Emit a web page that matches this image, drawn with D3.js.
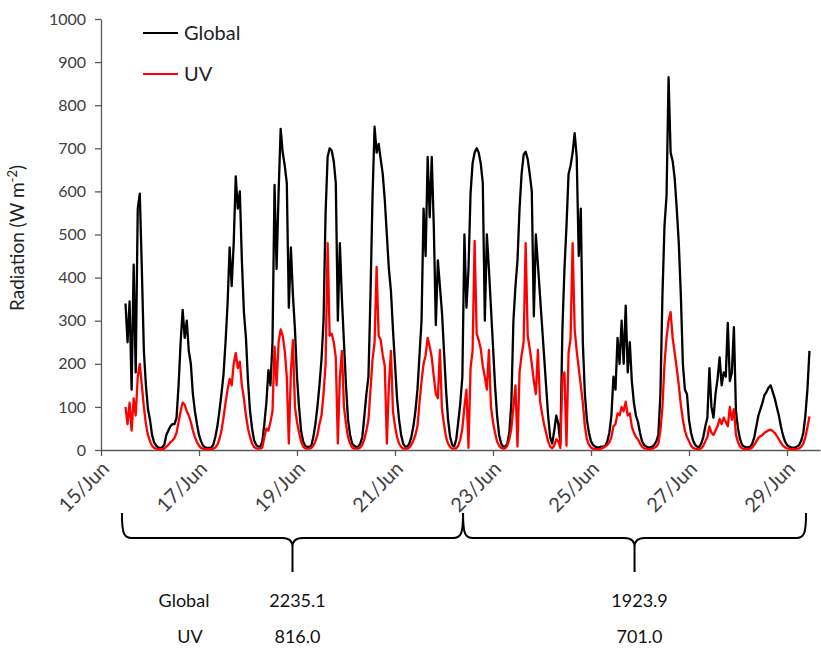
<!DOCTYPE html>
<html>
<head>
<meta charset="utf-8">
<script src="https://cdn.jsdelivr.net/npm/d3@7"></script>
<style>
body { margin: 0; background: #fff; }
text { font-family: Lato, "Open Sans", sans-serif; }
</style>
</head>
<body>
<svg id="chart" width="821" height="648"></svg>
<script>
// hourly values (W m-2), first sample at 15/Jun 12:00
var startTime = new Date(2019, 5, 15, 12)

var globalRad = [
  340,250,345,140,430,180,560,595,420,230,150,95,70,35,18,10,6,5,6,12,35,45,55,60,
  60,75,150,250,325,260,300,230,200,130,90,60,35,20,10,6,5,5,6,12,30,55,90,130,
  175,250,340,470,380,480,635,560,600,440,320,260,160,90,50,22,12,8,8,20,60,110,185,150,
  250,615,420,600,745,690,660,620,330,470,360,280,170,100,45,20,10,7,7,10,30,60,100,150,
  210,300,550,680,700,695,670,620,300,480,350,250,150,70,35,15,10,7,8,15,30,80,130,170,
  360,590,750,690,710,675,640,580,500,420,370,280,200,120,70,35,15,8,8,15,30,55,90,140,
  220,300,560,450,680,540,680,520,290,440,380,320,230,140,70,30,12,8,25,65,110,170,500,330,
  420,595,665,690,700,690,665,620,300,500,420,330,240,150,80,35,15,8,8,15,40,110,300,380,
  440,560,640,685,692,675,640,600,310,500,430,360,290,220,150,80,30,15,45,80,60,15,280,420,
  520,640,660,690,735,680,450,560,250,130,70,40,20,12,8,6,6,8,8,10,20,40,80,170,
  140,260,200,300,200,335,180,250,160,110,80,65,40,20,12,8,6,6,8,12,20,35,130,360,
  520,590,865,690,670,630,560,480,360,200,140,130,70,40,22,12,8,7,15,30,55,75,190,100,
  75,130,165,215,150,180,170,295,160,180,285,90,50,25,12,8,6,6,8,15,30,55,80,95,
  110,128,135,145,150,135,120,100,80,55,35,20,12,8,6,5,6,8,12,22,40,80,140,230
]

var uvRad = [
  100,60,110,45,120,80,170,200,150,100,60,35,20,10,5,3,2,2,2,3,8,12,18,22,
  28,40,65,90,110,105,90,80,65,45,30,18,10,5,3,2,2,2,2,3,6,12,25,45,
  75,110,140,165,150,200,225,190,205,150,120,80,50,30,15,7,4,3,3,6,30,50,45,65,
  90,240,150,250,280,265,230,170,15,180,255,100,65,40,20,8,4,3,3,5,10,20,35,60,
  80,130,200,480,265,270,250,215,15,170,230,100,60,30,15,6,3,3,3,6,12,25,45,70,
  140,210,250,425,265,255,220,195,15,150,230,90,55,30,15,7,3,3,3,6,12,22,35,55,
  110,160,200,220,260,240,215,170,130,120,232,95,60,30,15,7,3,3,4,10,25,50,100,140,
  5,190,230,485,270,255,235,195,170,140,232,100,65,40,20,10,5,3,4,10,25,50,100,150,
  8,180,220,250,480,265,235,200,160,130,232,115,85,60,40,20,8,4,10,25,20,5,170,180,
  10,225,260,480,280,230,190,150,110,55,25,12,6,3,2,2,2,3,5,8,12,18,30,55,
  60,85,80,100,90,112,80,85,55,40,30,25,15,8,4,3,2,2,3,5,8,15,45,100,
  200,260,300,320,260,225,190,150,105,70,45,30,20,10,5,3,2,2,4,10,20,30,55,40,
  35,45,55,72,60,75,65,55,100,70,95,35,18,8,4,2,2,2,3,6,12,20,28,32,
  35,40,43,46,47,44,40,33,25,17,10,6,4,3,2,2,2,3,4,8,15,30,52,78
]

var yTicks = [0, 100, 200, 300, 400, 500, 600, 700, 800, 900, 1000]
var tickDates = [15, 17, 19, 21, 23, 25, 27, 29].map(d => new Date(2019, 5, d))
var seriesNames = ["Global", "UV"]
var seriesColors = ["#000000", "#ff0000"]

// summary table under the braces
var periodBounds = [new Date(2019, 5, 15, 10, 15), new Date(2019, 5, 22, 9, 20), new Date(2019, 5, 29, 9, 20)]
var globalTotals = ["2235.1", "1923.9"]
var uvTotals = ["816.0", "701.0"]

var svg = d3.select("#chart")

var dimensions = {
    left: 101,
    right: 820,
    top: 19,
    bottom: 450
}

var x = d3.scaleTime()
          .domain([new Date(2019, 5, 15), new Date(2019, 5, 29, 16, 10)])
          .range([dimensions.left, dimensions.right])
var y = d3.scaleLinear()
          .domain([0, 1000])
          .range([dimensions.bottom, dimensions.top])

var rows = globalRad.map((g, i) => ({
    t: d3.timeHour.offset(startTime, i),
    global: g,
    uv: uvRad[i]
}))

//axes
var yAxis = svg.append("g")
               .attr("transform", `translate(${dimensions.left},0)`)
               .call(d3.axisLeft(y).tickValues(yTicks).tickFormat(d3.format("d"))
                       .tickSize(6).tickSizeOuter(0).tickPadding(9))
yAxis.selectAll("text").attr("font-size", 16).attr("fill", "#404040")

var xAxis = svg.append("g")
               .attr("transform", `translate(0,${dimensions.bottom})`)
               .call(d3.axisBottom(x).tickValues(tickDates).tickFormat(d3.timeFormat("%d/%b"))
                       .tickSize(6).tickSizeOuter(0))
xAxis.selectAll("text")
     .attr("font-size", 20)
     .attr("fill", "#404040")
     .attr("x", 0).attr("y", 0).attr("dy", "0.35em")
     .attr("text-anchor", "end")
     .attr("transform", "translate(4,15) rotate(-45)")

svg.selectAll(".domain, .tick line").attr("stroke", "#595959").attr("stroke-width", 1.3)

//y label
var yLabel = svg.append("text")
   .attr("transform", "translate(24,238) rotate(-90)")
   .attr("text-anchor", "middle")
   .attr("font-size", 19)
   .attr("fill", "#222")
yLabel.append("tspan").text("Radiation (W m")
yLabel.append("tspan").attr("dy", -7).attr("font-size", 13).text("-2")
yLabel.append("tspan").attr("dy", 7).text(")")

//lines
var keys = ["global", "uv"]
keys.forEach((k, i) => {
    svg.append("path")
       .datum(rows)
       .attr("fill", "none")
       .attr("stroke", seriesColors[i])
       .attr("stroke-width", 2.3)
       .attr("stroke-linejoin", "round")
       .attr("d", d3.line().x(d => x(d.t)).y(d => y(d[k])))
})

//legend
seriesNames.forEach((name, i) => {
    var ly = 33 + i * 41
    svg.append("line")
       .attr("x1", 143).attr("x2", 178)
       .attr("y1", ly).attr("y2", ly)
       .attr("stroke", seriesColors[i]).attr("stroke-width", 2.2)
    svg.append("text")
       .attr("x", 184).attr("y", ly)
       .attr("dy", "0.35em")
       .attr("font-size", 20)
       .attr("fill", "#222")
       .text(name)
})

//braces
function brace(x0, x1) {
    var xm = (x0 + x1) / 2, top = 513, h = 538, tip = 572
    return `M${x0},${top} C${x0},${h - 4} ${x0 + 2},${h} ${x0 + 10},${h}` +
           ` L${xm - 10},${h} C${xm - 3},${h} ${xm},${h + 3} ${xm},${h + 9} L${xm},${tip}` +
           ` M${xm},${h + 9} C${xm},${h + 3} ${xm + 3},${h} ${xm + 10},${h}` +
           ` L${x1 - 10},${h} C${x1 - 2},${h} ${x1},${h - 4} ${x1},${top}`
}
var centers = []
for (var p = 0; p < periodBounds.length - 1; p++) {
    var bx0 = x(periodBounds[p]), bx1 = x(periodBounds[p + 1])
    centers.push((bx0 + bx1) / 2)
    svg.append("path")
       .attr("d", brace(bx0, bx1))
       .attr("fill", "none")
       .attr("stroke", "#000")
       .attr("stroke-width", 2)
}

//summary table
svg.append("text").attr("x", 184).attr("y", 607).attr("text-anchor", "middle")
   .attr("font-size", 18).attr("fill", "#111").text("Global")
svg.append("text").attr("x", 190).attr("y", 643).attr("text-anchor", "middle")
   .attr("font-size", 18).attr("fill", "#111").text("UV")
centers.forEach((cx, i) => {
    svg.append("text").attr("x", cx + 5).attr("y", 607).attr("text-anchor", "middle")
       .attr("font-size", 18).attr("fill", "#111").text(globalTotals[i])
    svg.append("text").attr("x", cx + 5).attr("y", 643).attr("text-anchor", "middle")
       .attr("font-size", 18).attr("fill", "#111").text(uvTotals[i])
})
</script>
</body>
</html>
